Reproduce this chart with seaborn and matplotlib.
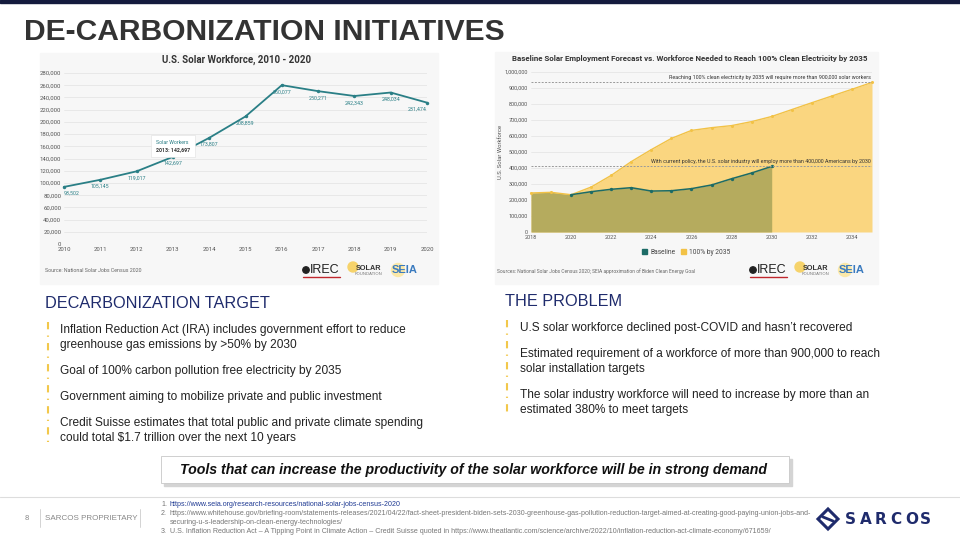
import matplotlib
matplotlib.use('Agg')
import matplotlib.pyplot as plt
from matplotlib.patches import Rectangle, Patch, Circle, Polygon
from matplotlib.offsetbox import TextArea, VPacker, AnnotationBbox
from matplotlib.ticker import FuncFormatter
import numpy as np
import seaborn as sns

# ---- data ----
wf_years = [2010, 2011, 2012, 2013, 2014, 2015, 2016, 2017, 2018, 2019, 2020]
wf_workers = [93502, 105145, 119017, 142697, 173807, 208859, 260077, 250271, 242343, 248034, 231474]

fc_years = list(range(2018, 2036))
need_2035 = [244000, 248000, 233000, 281000, 354000, 440000, 515000, 585000, 635000,
             652000, 665000, 690000, 722000, 765000, 808000, 850000, 892000, 935000]
base_years = list(range(2018, 2031))
baseline = [244000, 248000, 233000, 252000, 267000, 277000, 256000, 258000, 271000,
            294000, 333000, 369000, 410000]

left_head = 'DECARBONIZATION TARGET'
left_bullets = ['Inflation Reduction Act (IRA) includes government effort to reduce\ngreenhouse gas emissions by >50% by 2030',
                'Goal of 100% carbon pollution free electricity by 2035',
                'Government aiming to mobilize private and public investment',
                'Credit Suisse estimates that total public and private climate spending\ncould total $1.7 trillion over the next 10 years']
right_head = 'THE PROBLEM'
right_bullets = ['U.S solar workforce declined post-COVID and hasn\u2019t recovered',
                 'Estimated requirement of a workforce of more than 900,000 to reach\nsolar installation targets',
                 'The solar industry workforce will need to increase by more than an\nestimated 380% to meet targets']

refs = [('1.', 'https://www.seia.org/research-resources/national-solar-jobs-census-2020', True),
        ('2.', 'https://www.whitehouse.gov/briefing-room/statements-releases/2021/04/22/fact-sheet-president-biden-sets-2030-greenhouse-gas-pollution-reduction-target-aimed-at-creating-good-paying-union-jobs-and-\nsecuring-u-s-leadership-on-clean-energy-technologies/', False),
        ('3.', 'U.S. Inflation Reduction Act \u2013 A Tipping Point in Climate Action \u2013 Credit Suisse quoted in https://www.theatlantic.com/science/archive/2022/10/inflation-reduction-act-climate-economy/671659/', False)]

# ---- style ----
sns.set_style('white')
plt.rcParams['font.family'] = ['Liberation Sans', 'DejaVu Sans']

W, H = 960, 540
NAVY = '#1f2b6c'
TEAL = '#2a7f86'
GREEN = '#1c6b66'
YEL = '#f2c246'
YEL_FILL = '#fad680'
OLIVE = '#b5ab5e'
SLIDE = 'Liberation Sans'
CHART = 'Roboto'


def box(x0, y0, x1, y1):
    return [x0 / W, 1 - y1 / H, (x1 - x0) / W, (y1 - y0) / H]


fig = plt.figure(figsize=(9.6, 5.4), dpi=100)
bg = fig.add_axes([0, 0, 1, 1])
bg.set_xlim(0, W)
bg.set_ylim(H, 0)
bg.axis('off')

# top bar, title
bg.add_patch(Rectangle((0, 0), W, 3, color='#141b3d'))
bg.text(24, 32, 'DE-CARBONIZATION INITIATIVES', fontsize=21.6, fontweight='bold',
        color='#333333', va='center', ha='left', family=SLIDE)

# chart panels
bg.add_patch(Rectangle((40, 53), 398, 231, color='#f7f7f7', zorder=0))
bg.add_patch(Rectangle((495, 52), 383, 232, color='#f7f7f7', zorder=0))

fmt = FuncFormatter(lambda v, p: f'{int(v):,}')

# ---- left chart ----
ax1 = fig.add_axes(box(64, 73, 427, 244))
ax1.set_facecolor('none')
sns.lineplot(x=wf_years, y=wf_workers, ax=ax1, color=TEAL, linewidth=1.3,
             marker='o', markersize=2.5, markeredgewidth=0, clip_on=False)
ax1.set_xlim(2010, 2020)
ax1.set_ylim(0, 280000)
ax1.set_xticks(wf_years)
ax1.set_yticks(np.arange(0, 280001, 20000))
ax1.yaxis.set_major_formatter(fmt)
ax1.tick_params(labelsize=4.3, colors='#555555', length=0, pad=2)
for lab in ax1.get_xticklabels() + ax1.get_yticklabels():
    lab.set_family(CHART)
ax1.grid(axis='y', color='#e6e6e6', linewidth=0.6)
sns.despine(ax=ax1, left=True, bottom=True)
ax1.set_xlabel('')
ax1.set_ylabel('')
for i, (yr, v) in enumerate(zip(wf_years, wf_workers)):
    ha = 'left' if i == 0 else ('right' if i == len(wf_years) - 1 else 'center')
    ax1.annotate(f'{v:,}', (yr, v), xytext=(0, -3), textcoords='offset points',
                 ha=ha, va='top', fontsize=3.8, color=TEAL, family=CHART)
# tooltip at 2013
tip = VPacker(children=[TextArea('Solar Workers', textprops=dict(fontsize=3.8, color=TEAL, family=CHART)),
                        TextArea('2013: ' + f'{wf_workers[3]:,}',
                                 textprops=dict(fontsize=3.8, color='#333333', family=CHART, fontweight='bold'))],
              align='left', pad=0, sep=1.5)
ax1.add_artist(AnnotationBbox(tip, (2013, wf_workers[3]), xybox=(0, 3.5), xycoords='data',
                              boxcoords='offset points', box_alignment=(0.5, 0),
                              frameon=True, pad=0.35,
                              bboxprops=dict(fc='white', ec='#e0e0e0', lw=0.4)))
bg.text(237, 60, 'U.S. Solar Workforce, 2010 - 2020', fontsize=7, fontweight='bold',
        color='#333333', ha='center', va='center', family=CHART)
bg.text(45, 271, 'Source: National Solar Jobs Census 2020', fontsize=3.8, color='#666666',
        va='center', family=CHART)

# ---- right chart ----
ax2 = fig.add_axes(box(531, 72, 872, 232))
ax2.set_facecolor('none')
ax2.fill_between(fc_years, need_2035, color=YEL_FILL, lw=0, zorder=1)
ax2.fill_between(base_years, baseline, color=OLIVE, lw=0, zorder=2)
sns.lineplot(x=fc_years, y=need_2035, ax=ax2, color=YEL, linewidth=1.0, marker='o',
             markersize=2.2, markeredgewidth=0, zorder=3, clip_on=False)
sns.lineplot(x=base_years[2:], y=baseline[2:], ax=ax2, color=GREEN, linewidth=1.1,
             marker='o', markersize=2.4, markeredgewidth=0, zorder=4, clip_on=False)
ax2.set_xlim(2018, 2035)
ax2.set_ylim(0, 1000000)
ax2.set_xticks(range(2018, 2035, 2))
ax2.set_yticks(np.arange(0, 1000001, 100000))
ax2.yaxis.set_major_formatter(fmt)
ax2.tick_params(labelsize=4.0, colors='#555555', length=0, pad=2)
for lab in ax2.get_xticklabels() + ax2.get_yticklabels():
    lab.set_family(CHART)
ax2.grid(axis='y', color='#e6e6e6', linewidth=0.6)
ax2.set_axisbelow(True)
sns.despine(ax=ax2, left=True, bottom=True)
ax2.set_xlabel('')
ax2.set_ylabel('U.S. Solar Workforce', fontsize=4.2, color='#555555', family=CHART, labelpad=1)
for lvl, txt in [(need_2035[-1], 'Reaching 100% clean electricity by 2035 will require more than 900,000 solar workers'),
                 (baseline[-1], 'With current policy, the U.S. solar industry will employ more than 400,000 Americans by 2030')]:
    ax2.axhline(lvl, color='#9a9a9a', lw=0.7, ls=(0, (2, 1.5)), zorder=5)
    ax2.annotate(txt, (2035, lvl), xytext=(-1, 1.5), textcoords='offset points', ha='right',
                 va='bottom', fontsize=3.9, color='#333333', family=CHART, zorder=6)
bg.text(690, 59, 'Baseline Solar Employment Forecast vs. Workforce Needed to Reach 100% Clean Electricity by 2035',
        fontsize=5.7, fontweight='bold', color='#333333', ha='center', va='center', family=CHART)
fig.legend(handles=[Patch(color=GREEN, label='Baseline'), Patch(color=YEL, label='100% by 2035')],
           loc='center', bbox_to_anchor=(686 / W, 1 - 252 / H), ncol=2, frameon=False,
           prop={'family': CHART, 'size': 4.8}, handlelength=0.8, handleheight=0.8,
           handletextpad=0.4, columnspacing=0.8, labelcolor='#444444')
bg.text(497, 271, 'Sources: National Solar Jobs Census 2020; SEIA approximation of Biden Clean Energy Goal',
        fontsize=3.5, color='#666666', va='center', family=CHART)

# logos (text approximations)
for x0 in (303, 750):
    bg.add_patch(Circle((x0 + 3, 270), 3.2, color='#222222', zorder=2))
    bg.text(x0 + 7, 270, 'IREC', fontsize=9, color='#222222', va='center', family=SLIDE)
    bg.plot([x0, x0 + 37], [277, 277], color='#c0272d', lw=1)
    bg.add_patch(Circle((x0 + 50, 267), 5, color='#f6d36b', zorder=2))
    bg.text(x0 + 53, 268, 'SOLAR', fontsize=5.2, fontweight='bold', color='#333333', va='center', family=SLIDE)
    bg.text(x0 + 52, 274, 'FOUNDATION', fontsize=3, color='#777777', va='center', family=SLIDE)
    bg.add_patch(Circle((x0 + 95, 270), 6.5, color='#fbe8a8', zorder=2))
    bg.text(x0 + 89, 270, 'SEIA', fontsize=8, fontweight='bold', color='#3b7bbf', va='center',
            family=SLIDE, zorder=3)

# ---- text sections ----
def bullets(x_mark, x_text, y_head, y_first, head, items):
    bg.text(x_text - 15, y_head, head, fontsize=11.7, color=NAVY, va='center', family=SLIDE)
    y = y_first
    for item in items:
        bg.text(x_text, y, item, fontsize=8.6, color='#222222', va='top', family=SLIDE,
                linespacing=1.3)
        y += 15 * (item.count('\n') + 1) + 11
    bg.plot([x_mark, x_mark], [y_first - 2, y - 14], color='#f2c84b', lw=1.5,
            ls=(0, (3.5, 3, 0.6, 3)), solid_capstyle='butt')


bullets(48, 60, 303, 324, left_head, left_bullets)
bullets(507, 520, 301, 322, right_head, right_bullets)

# ---- callout ----
bg.add_patch(Rectangle((164, 459), 628, 27, color='#d4d4d4', zorder=1))
bg.add_patch(Rectangle((161, 456), 628, 27, fc='white', ec='#c8c8c8', lw=0.6, zorder=2))
bg.text(473, 470, 'Tools that can increase the productivity of the solar workforce will be in strong demand',
        fontsize=10.2, fontweight='bold', fontstyle='italic', color='#111111', ha='center',
        va='center', family=SLIDE, zorder=3)

# ---- footer ----
bg.plot([0, W], [497, 497], color='#dddddd', lw=0.8)
bg.text(25, 518, '8', fontsize=5.5, color='#888888', va='center', family=SLIDE)
bg.plot([40, 40], [509, 527], color='#cccccc', lw=0.6)
bg.plot([140, 140], [509, 527], color='#cccccc', lw=0.6)
bg.text(45, 518, 'SARCOS PROPRIETARY', fontsize=5.8, color='#888888', va='center', family=SLIDE)
ry = 504
for num, txt, link in refs:
    bg.text(161, ry, num, fontsize=5.1, color='#777777', va='center', family=SLIDE)
    for line in txt.split('\n'):
        bg.text(170, ry, line, fontsize=5.1, color='#1f3a93' if link else '#777777',
                va='center', family=SLIDE)
        ry += 9.3

# sarcos logo
bg.add_patch(Polygon([[828, 509], [838, 519], [828, 529], [818, 519]], closed=True,
                     fc='none', ec=NAVY, lw=2.2))
bg.plot([823, 833], [517, 521], color=NAVY, lw=2.0)
for i, ch in enumerate('SARCOS'):
    bg.text(845 + i * 15, 519, ch, fontsize=11, fontweight='bold', color=NAVY,
            va='center', ha='left', family='DejaVu Sans')

fig.savefig('out.png', dpi=100)
